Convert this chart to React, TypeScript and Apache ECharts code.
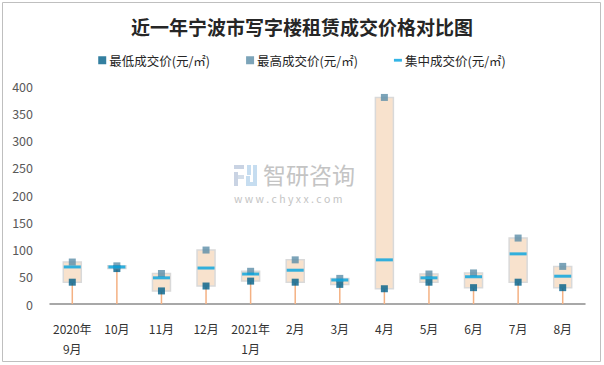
import React, { useEffect, useRef } from "react";
import * as echarts from "echarts";

const categories = ["2020年\n9月", "10月", "11月", "12月", "2021年\n1月", "2月", "3月", "4月", "5月", "6月", "7月", "8月"];
const lowValues = [40, 65, 24, 33, 42, 40, 36, 28, 40, 30, 40, 30];
const highValues = [77, 70, 56, 99, 60, 81, 47, 379, 55, 57, 121, 69];
const centerValues = [68, 68, 48, 66, 55, 62, 44, 81, 48, 50, 92, 51];
const seriesNames = ["最低成交价(元/㎡)", "最高成交价(元/㎡)", "集中成交价(元/㎡)"];
const yTicks = { min: 0, max: 400, interval: 50 };

const FONT = "'Noto Sans CJK SC', 'Noto Sans', sans-serif";

export default function App() {
  const ref = useRef<HTMLDivElement>(null);
  useEffect(() => {
    if (!ref.current) return;
    const chart = echarts.init(ref.current, undefined, { renderer: "svg" });
    const boxData = categories.map((_, i) => [i, lowValues[i], highValues[i]]);
    chart.setOption({
      animation: false,
      backgroundColor: "#ffffff",
      textStyle: { fontFamily: FONT },
      title: {
        text: "近一年宁波市写字楼租赁成交价格对比图",
        left: "center",
        top: 12,
        textStyle: { fontSize: 19, fontWeight: "bold", color: "#262626", fontFamily: FONT },
      },
      legend: {
        top: 49,
        left: "center",
        itemGap: 36,
        itemWidth: 8,
        itemHeight: 8,
        textStyle: { fontSize: 12.5, color: "#262626", fontFamily: FONT, padding: [0, 0, 0, -2] },
        data: [
          { name: seriesNames[0], icon: "rect" },
          { name: seriesNames[1], icon: "rect" },
          { name: seriesNames[2], icon: "path://M0,0H10V3.5H0Z" },
        ],
      },
      grid: { left: 50, right: 19, top: 86, bottom: 61, containLabel: false },
      xAxis: {
        type: "category",
        data: categories,
        boundaryGap: true,
        axisLine: { show: true, lineStyle: { color: "#8c8c8c", width: 1.5 } },
        axisTick: { show: false },
        axisLabel: { color: "#333333", fontSize: 12, margin: 14, lineHeight: 20, interval: 0, fontFamily: FONT },
        splitLine: { show: false },
      },
      yAxis: {
        type: "value",
        min: yTicks.min,
        max: yTicks.max,
        interval: yTicks.interval,
        axisLine: { show: false },
        axisTick: { show: false },
        splitLine: { show: false },
        axisLabel: { color: "#595959", fontSize: 12.5, margin: 17, fontFamily: FONT },
      },
      graphic: [
        {
          type: "rect",
          z: -10,
          shape: { x: 2.5, y: 2.5, width: 598, height: 359 },
          style: { fill: "none", stroke: "#bfbfbf", lineWidth: 1 },
          silent: true,
        },
        {
          type: "group",
          z: -5,
          silent: true,
          children: [
            { type: "rect", shape: { x: 234, y: 165, width: 10, height: 4 }, style: { fill: "#c9d3e3" } },
            { type: "rect", shape: { x: 234, y: 172, width: 4, height: 14 }, style: { fill: "#c9d3e3" } },
            { type: "rect", shape: { x: 238, y: 175, width: 6, height: 4 }, style: { fill: "#d3dde9" } },
            { type: "rect", shape: { x: 247, y: 165, width: 4, height: 10 }, style: { fill: "#c6ddf0" } },
            { type: "rect", shape: { x: 253, y: 165, width: 4, height: 21 }, style: { fill: "#c6ddf0" } },
            { type: "rect", shape: { x: 246, y: 182, width: 7, height: 4 }, style: { fill: "#c6ddf0" } },
            { type: "rect", shape: { x: 246, y: 176, width: 4, height: 8 }, style: { fill: "#c6ddf0" } },
            {
              type: "text",
              x: 263,
              y: 174,
              style: { text: "智研咨询", fontSize: 23, fill: "#c4c4c4", fontFamily: FONT, verticalAlign: "middle", align: "left" },
            },
            {
              type: "text",
              x: 234,
              y: 198,
              style: { text: "w w w . c h y x x . c o m", fontSize: 10.5, fill: "#c4c4c4", fontFamily: FONT, verticalAlign: "middle", align: "left" },
            },
          ],
        },
      ],
      series: [
        {
          type: "custom",
          name: "box",
          z: 1,
          data: boxData,
          encode: { x: 0, y: [1, 2] },
          renderItem: (params: any, api: any) => {
            const idx = api.value(0);
            const lo = api.value(1);
            const hi = api.value(2);
            const p0 = api.coord([idx, 0]);
            const pl = api.coord([idx, lo]);
            const ph = api.coord([idx, hi]);
            return {
              type: "group",
              children: [
                {
                  type: "line",
                  shape: { x1: p0[0], y1: p0[1], x2: pl[0], y2: pl[1] },
                  style: { stroke: "#f4b183", lineWidth: 1.5 },
                },
                {
                  type: "rect",
                  shape: { x: ph[0] - 9, y: ph[1], width: 18, height: pl[1] - ph[1] },
                  style: { fill: "#f8e2cd", stroke: "#d9d9d9", lineWidth: 1.5 },
                },
              ],
            };
          },
        },
        {
          type: "scatter",
          name: seriesNames[0],
          z: 3,
          symbol: "rect",
          symbolSize: 7,
          itemStyle: { color: "#005f88" },
          data: lowValues,
        },
        {
          type: "scatter",
          name: seriesNames[1],
          z: 3,
          symbol: "rect",
          symbolSize: 7,
          itemStyle: { color: "#5b8da8" },
          data: highValues,
        },
        {
          type: "scatter",
          name: seriesNames[2],
          z: 4,
          symbol: "rect",
          symbolSize: [17, 3],
          itemStyle: { color: "#00a3e0" },
          data: centerValues,
        },
      ],
    });
    return () => chart.dispose();
  }, []);
  return <div ref={ref} style={{ position: "fixed", left: 0, top: 0, width: 604, height: 365 }} />;
}
